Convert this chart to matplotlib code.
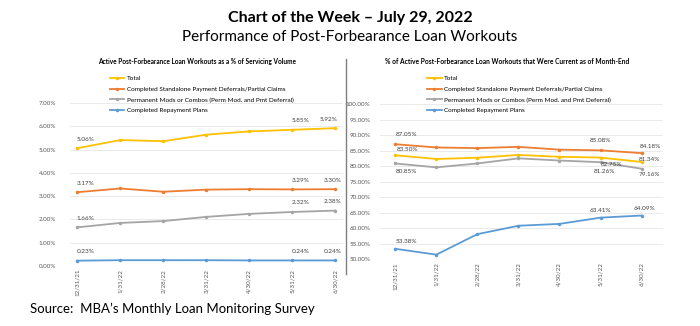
import matplotlib.pyplot as plt
import numpy as np

plt.rcParams['font.family'] = ['Lato', 'DejaVu Sans']

dates = ["12/31/21", "1/31/22", "2/28/22", "3/31/22", "4/30/22", "5/31/22", "6/30/22"]
series_names = ["Total",
                "Completed Standalone Payment Deferrals/Partial Claims",
                "Permanent Mods or Combos (Perm Mod. and Pmt Deferral)",
                "Completed Repayment Plans"]
colors = ["#FFC000", "#ED7D31", "#A5A5A5", "#5B9BD5"]

# left: % of servicing volume
left_total = [5.06, 5.41, 5.36, 5.64, 5.78, 5.85, 5.92]
left_standalone = [3.17, 3.33, 3.19, 3.28, 3.30, 3.29, 3.30]
left_perm = [1.66, 1.85, 1.93, 2.11, 2.24, 2.32, 2.38]
left_repay = [0.23, 0.25, 0.25, 0.25, 0.24, 0.24, 0.24]

# right: % current as of month-end
right_total = [83.50, 82.3, 82.7, 83.6, 83.0, 82.75, 81.34]
right_standalone = [87.05, 86.0, 85.8, 86.2, 85.3, 85.08, 84.18]
right_perm = [80.85, 79.6, 80.85, 82.5, 81.8, 81.26, 79.16]
right_repay = [53.38, 51.5, 58.1, 60.8, 61.4, 63.41, 64.09]

fig = plt.figure(figsize=(7, 3.26), dpi=100)
fig.text(0.5, 0.945, "Chart of the Week \u2013 July 29, 2022", ha="center", va="center",
         fontsize=11.5, fontweight="bold")
fig.text(0.5, 0.885, "Performance of Post-Forbearance Loan Workouts", ha="center", va="center",
         fontsize=11)
fig.text(0.043, 0.052, "Source:  MBA\u2019s Monthly Loan Monitoring Survey", ha="left", va="center",
         fontsize=9.5)

x = np.arange(len(dates))


def setup(ax, ylim, step, pad):
    ax.set_ylim(*ylim)
    ax.set_yticks(np.arange(ylim[0], ylim[1] + 0.001, step))
    ax.set_yticklabels(["%.2f%%" % v for v in ax.get_yticks()], fontsize=4.5, color="#595959")
    ax.set_xticks(x)
    ax.set_xticklabels(dates, rotation=90, fontsize=4.5, color="#595959")
    ax.grid(axis="y", color="#E6E6E6", linewidth=0.6)
    ax.set_axisbelow(True)
    for s in ax.spines.values():
        s.set_visible(False)
    ax.tick_params(axis="y", length=0, pad=pad)
    ax.tick_params(axis="x", length=0, pad=2)


def label(ax, i, y, txt, dx, dy):
    ax.annotate(txt, (x[i], y), xytext=(dx, dy), textcoords="offset points",
                ha="center", va="center", fontsize=4.6, color="#404040")


def legend(ax, fx, fy):
    ax.legend(loc="upper left", bbox_to_anchor=(fx, fy), bbox_transform=fig.transFigure,
              frameon=False, fontsize=4.55, handlelength=2.3, labelspacing=0.85,
              handletextpad=0.4, borderaxespad=0, borderpad=0)


# left panel
axl = fig.add_axes([0.10, 0.184, 0.39, 0.5])
for vals, c, n in zip([left_total, left_standalone, left_perm, left_repay], colors, series_names):
    axl.plot(x, vals, color=c, lw=1.3, marker="o", ms=1.5, label=n)
axl.set_xlim(-0.17, 6.18)
setup(axl, (0, 7), 1, 10)
left_offs = {0: (6, 6.5), 5: (6, 6.5), 6: (-2, 6.5)}
for k, vals in enumerate([left_total, left_standalone, left_perm, left_repay]):
    for i in (0, 5, 6):
        dx, dy = left_offs[i]
        if k == 0 and i == 6:
            dx = -5
        label(axl, i, vals[i], "%.2f%%" % vals[i], dx, dy)
legend(axl, 0.157, 0.768)
fig.text(0.281, 0.81, "Active Post-Forbearance Loan Workouts as a % of Servicing Volume",
         ha="center", va="center", fontsize=4.7, fontweight="bold")

# right panel
axr = fig.add_axes([0.543, 0.2046, 0.404, 0.4764])
for vals, c, n in zip([right_total, right_standalone, right_perm, right_repay], colors, series_names):
    axr.plot(x, vals, color=c, lw=1.3, marker="o", ms=1.5, label=n)
axr.set_xlim(-0.37, 6.52)
setup(axr, (50, 100), 5, 7)
offs = {
    (0, 0): (9, 4), (0, 5): (8, -5), (0, 6): (6, 2),
    (1, 0): (8, 7), (1, 5): (0, 7), (1, 6): (6, 4.5),
    (2, 0): (8, -5.5), (2, 5): (3, -6.5), (2, 6): (6, -4),
    (3, 0): (8, 5), (3, 5): (0, 5), (3, 6): (2, 5),
}
for k, vals in enumerate([right_total, right_standalone, right_perm, right_repay]):
    for i in (0, 5, 6):
        dx, dy = offs[(k, i)]
        label(axr, i, vals[i], "%.2f%%" % vals[i], dx, dy)
legend(axr, 0.61, 0.768)
fig.text(0.725, 0.81, "% of Active Post-Forbearance Loan Workouts that Were Current as of Month-End",
         ha="center", va="center", fontsize=4.75, fontweight="bold")

# divider line
fig.add_artist(plt.Line2D([0.494, 0.494], [0.16, 0.82], color="#7F7F7F", lw=1.0))

fig.savefig("out.png", dpi=100, facecolor="white")
